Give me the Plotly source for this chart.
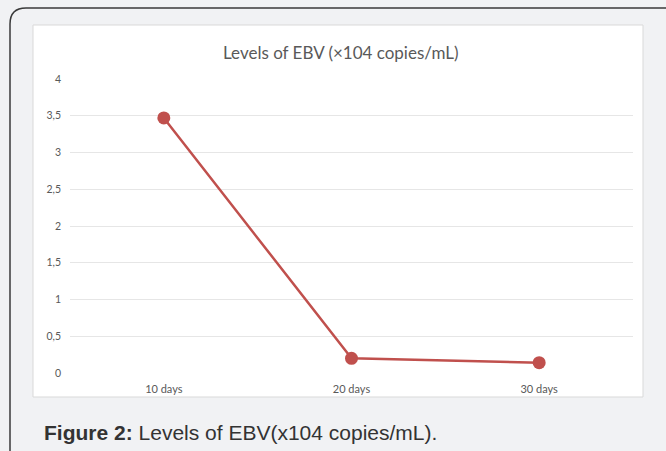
import plotly.graph_objects as go

categories = ["10 days", "20 days", "30 days"]
values = [3.47, 0.20, 0.14]
ytick_vals = [0, 0.5, 1, 1.5, 2, 2.5, 3, 3.5, 4]
ytick_text = ["0", "0,5", "1", "1,5", "2", "2,5", "3", "3,5", "4"]

W, H = 666, 451
L, R, T, B = 70, 33, 79, 78
pw, ph = W - L - R, H - T - B

def px(x):
    return (x - L) / pw

def py(y):
    return (H - B - y) / ph

fig = go.Figure()
fig.add_trace(go.Scatter(
    x=categories, y=values, mode="lines+markers",
    line=dict(color="#c0504d", width=2.5),
    marker=dict(color="#c0504d", size=13),
    showlegend=False, cliponaxis=False,
))

# outer rounded border
r = 16
x0, y0 = 10, 8
path = (f"M {px(x0)} {py(470)} L {px(x0)} {py(y0 + r)} "
        f"Q {px(x0)} {py(y0)} {px(x0 + r)} {py(y0)} L {px(700)} {py(y0)}")
shapes = [
    dict(type="path", xref="paper", yref="paper", path=path,
         line=dict(color="#3a3a3a", width=1.5), layer="below"),
    dict(type="rect", xref="paper", yref="paper",
         x0=px(33), x1=px(643), y0=py(397), y1=py(25),
         fillcolor="white", line=dict(color="#d9d9d9", width=1), layer="below"),
]

fig.update_layout(
    width=W, height=H,
    margin=dict(l=L, r=R, t=T, b=B),
    paper_bgcolor="#f1f2f4",
    plot_bgcolor="rgba(0,0,0,0)",
    shapes=shapes,
    font=dict(family="Lato, Open Sans, sans-serif", color="#595959"),
    xaxis=dict(
        type="category", range=[-0.5, 2.5], showgrid=False, showline=False,
        zeroline=False, tickfont=dict(size=11, color="#595959"),
        ticklabelstandoff=8, fixedrange=True,
    ),
    yaxis=dict(
        range=[0, 4], tickvals=ytick_vals, ticktext=ytick_text,
        showgrid=True, gridcolor="#e6e6e6", gridwidth=1, zeroline=False,
        showline=False, tickfont=dict(size=10.5, color="#595959"),
        ticklabelstandoff=8, fixedrange=True,
    ),
    annotations=[
        dict(text="Levels of EBV (×104 copies/mL)", xref="paper", yref="paper",
             x=px(341), y=py(52), xanchor="center", yanchor="middle",
             showarrow=False, font=dict(size=17, color="#595959",
                                        family="Lato, Open Sans, sans-serif")),
        dict(text="<b>Figure 2:</b> Levels of EBV(x104 copies/mL).",
             xref="paper", yref="paper", x=px(42), y=py(432),
             xanchor="left", yanchor="middle", showarrow=False,
             font=dict(size=21, color="#333333",
                       family="Liberation Sans, Arial, sans-serif")),
    ],
)

fig.write_html("out.html",
               config={"displayModeBar": False},
               post_script="document.body.style.margin='0';document.body.style.background='#f1f2f4';")
